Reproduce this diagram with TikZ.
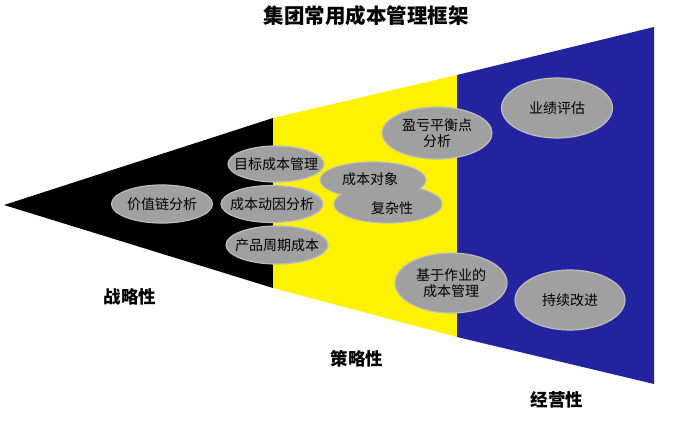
\documentclass[tikz,border=0pt]{standalone}
\usepackage{fontspec}
\newfontfamily\cjk{Noto Sans CJK SC}
\usetikzlibrary{shapes.geometric}
\definecolor{funnelblue}{HTML}{2323A0}
\definecolor{bubgray}{HTML}{A0A0A0}
\definecolor{bubrim}{HTML}{BDBDBD}
\tikzset{
  bub/.style={ellipse, fill=bubgray, draw=bubrim, line width=1.2pt, inner sep=0pt},
  btxt/.style={font=\cjk\fontsize{14}{15.5}\selectfont, text=black, align=center, inner sep=0pt},
  lvl/.style={font=\cjk\bfseries\fontsize{17.5}{19}\selectfont, text=black, inner sep=0pt},
  ttl/.style={font=\cjk\bfseries\fontsize{20.5}{22}\selectfont, text=black, inner sep=0pt}
}
\begin{document}
\begin{tikzpicture}[x=1pt,y=-1pt]
\useasboundingbox (0,0) rectangle (690,420);
% funnel
\fill[black] (4,205) -- (273,118) -- (273,288) -- cycle;
\fill[yellow] (273,118) -- (457,75) -- (457,337) -- (273,288) -- cycle;
\fill[funnelblue] (457,75) -- (654,27) -- (654,384) -- (457,337) -- cycle;
% title
\node[ttl] (title) at (366,16) {集团常用成本管理框架};
% black section
\node[bub, minimum width=101pt, minimum height=38pt] (vc) at (162,204) {};
\node[btxt] at (vc) {价值链分析};
\node[bub, minimum width=96pt, minimum height=36pt] (tc) at (276,164) {};
\node[btxt] at (tc) {目标成本管理};
\node[bub, minimum width=102pt, minimum height=37pt] (cd) at (272,204) {};
\node[btxt] at (cd) {成本动因分析};
\node[bub, minimum width=102pt, minimum height=38pt] (pl) at (277,245) {};
\node[btxt] at (pl) {产品周期成本};
% cloud
\node[bub, minimum width=106pt, minimum height=36pt] (coA) at (373,180) {};
\node[bub, minimum width=108pt, minimum height=38pt] (coB) at (388,204) {};
\fill[bubgray] (373,180) ellipse [x radius=52.4pt, y radius=17.4pt];
\fill[bubgray] (388,204) ellipse [x radius=53.4pt, y radius=18.4pt];
\node[btxt] (coT) at (370,179) {成本对象};
\node[btxt] (coU) at (392,208) {复杂性};
% yellow / blue boundary bubbles
\node[bub, minimum width=110pt, minimum height=52pt] (be) at (437,133) {};
\node[btxt] at (be) {盈亏平衡点\\分析};
\node[bub, minimum width=112pt, minimum height=60pt] (abc) at (451,283) {};
\node[btxt] at (abc) {基于作业的\\成本管理};
\node[bub, minimum width=111pt, minimum height=60pt] (pe) at (557,108) {};
\node[btxt] at (pe) {业绩评估};
\node[bub, minimum width=110pt, minimum height=60pt] (ci) at (570,300) {};
\node[btxt] at (ci) {持续改进};
% level labels
\node[lvl] (l1) at (130,297) {战略性};
\node[lvl] (l2) at (357,359) {策略性};
\node[lvl] (l3) at (557,400) {经营性};
\end{tikzpicture}
\end{document}
